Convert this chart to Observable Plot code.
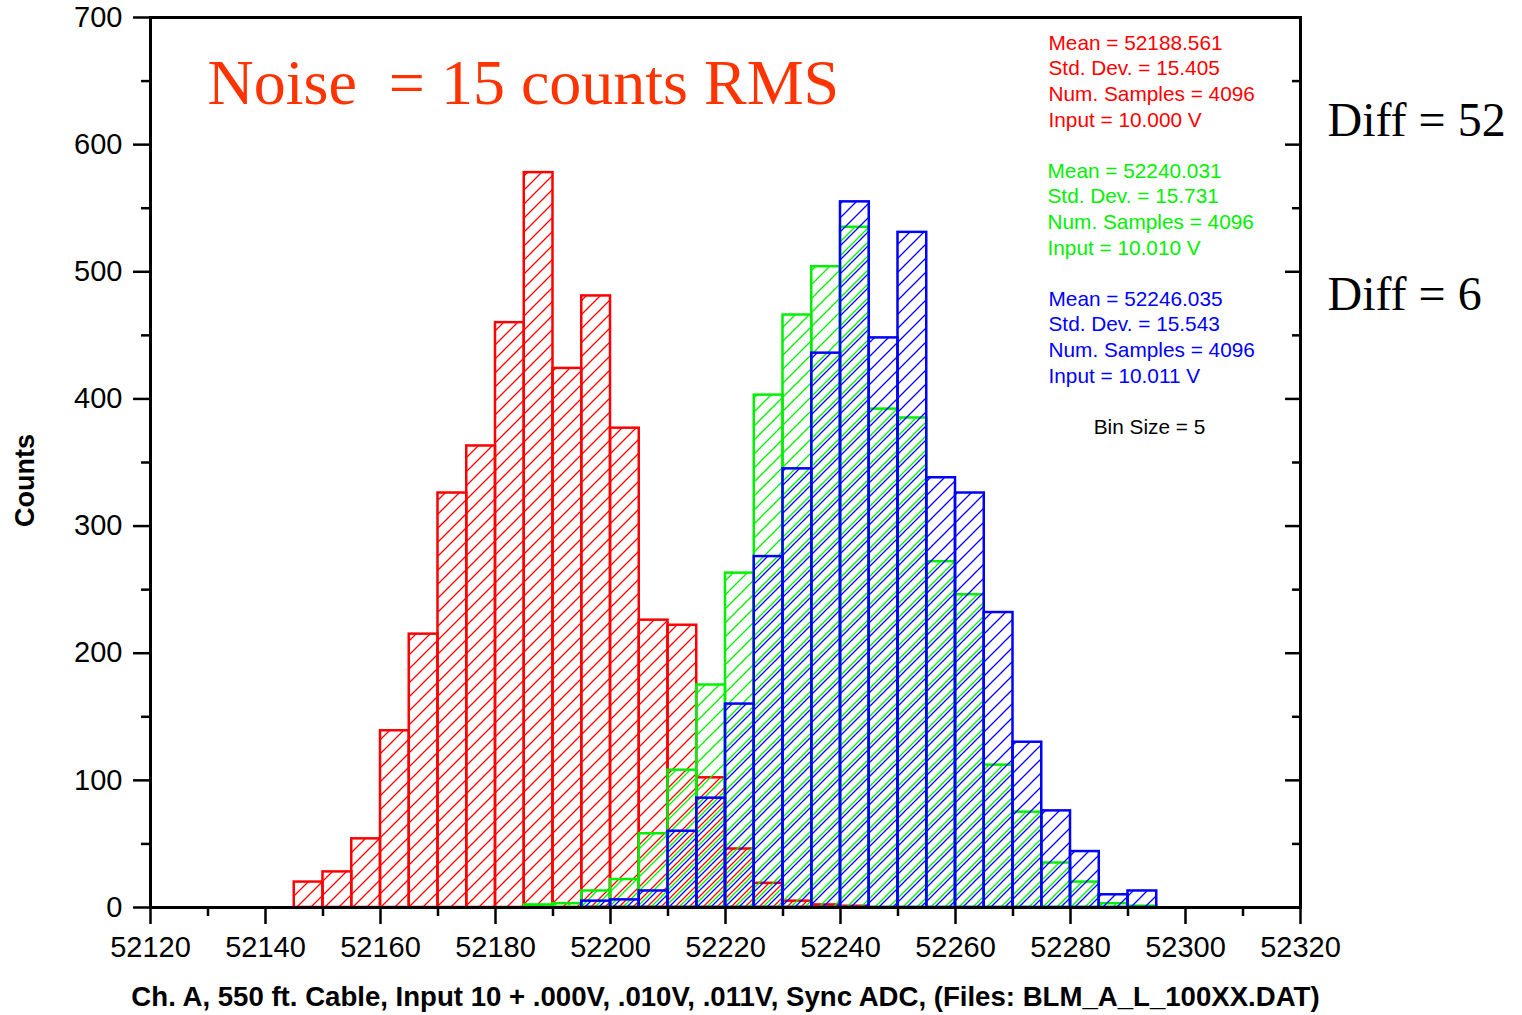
<!DOCTYPE html>
<html>
<head>
<meta charset="utf-8">
<script src="https://cdn.jsdelivr.net/npm/d3@7"></script>
<script src="https://cdn.jsdelivr.net/npm/@observablehq/plot@0.6"></script>
<style>
  html, body { margin: 0; padding: 0; background: #fff; }
  #chart { width: 1522px; height: 1015px; }
</style>
</head>
<body>
<div id="chart"></div>
<script>
// ---- data ----
const binSize = 5;

const redStart = 52135;
const redCounts = [0, 0, 20, 28, 54, 139, 215, 326, 363, 460, 578, 424, 481, 377, 226, 222, 102, 46, 19, 5, 2, 1];

const greenStart = 52185;
const greenCounts = [2, 3, 13, 22, 58, 108, 175, 263, 403, 466, 504, 535, 392, 385, 272, 246, 112, 75, 35, 20, 3, 1];

const blueStart = 52195;
const blueCounts = [5, 6, 13, 60, 86, 160, 276, 345, 436, 555, 448, 531, 338, 326, 232, 130, 76, 44, 10, 13, 0];

const seriesNames = ["red", "green", "blue"];
const seriesColors = ["#ff0000", "#00f000", "#0000ff"];

const statsRed = ["Mean = 52188.561", "Std. Dev. = 15.405", "Num. Samples = 4096", "Input = 10.000 V"];
const statsGreen = ["Mean = 52240.031", "Std. Dev. = 15.731", "Num. Samples = 4096", "Input = 10.010 V"];
const statsBlue = ["Mean = 52246.035", "Std. Dev. = 15.543", "Num. Samples = 4096", "Input = 10.011 V"];
const binLabel = "Bin Size = 5";
const noiseLabel = "Noise\u00a0 = 15 counts RMS";
const diffLabels = ["Diff = 52", "Diff = 6"];

const xTicks = [52120, 52140, 52160, 52180, 52200, 52220, 52240, 52260, 52280, 52300, 52320];
const yTicks = [0, 100, 200, 300, 400, 500, 600, 700];
const xMinor = d3.range(52130, 52320, 20);
const yMinor = d3.range(50, 700, 100);

const xTitle = "Ch. A, 550 ft. Cable, Input 10 + .000V, .010V, .011V, Sync ADC, (Files: BLM_A_L_100XX.DAT)";
const yTitle = "Counts";

// ---- build tables ----
function toBins(start, counts) {
  return counts.map((c, i) => ({x1: start + binSize * i, x2: start + binSize * (i + 1), y: c}));
}
const redBins = toBins(redStart, redCounts);
const greenBins = toBins(greenStart, greenCounts);
const blueBins = toBins(blueStart, blueCounts);

const hatch = 14;
function patterns() {
  const defs = d3.create("svg:defs");
  seriesNames.forEach((name, i) => {
    const p = defs.append("pattern")
      .attr("id", "hatch-" + name)
      .attr("patternUnits", "userSpaceOnUse")
      .attr("width", hatch).attr("height", hatch)
      .attr("x", i * 4);
    p.append("path")
      .attr("d", `M-1,1 l2,-2 M0,${hatch} l${hatch},-${hatch} M${hatch - 1},${hatch + 1} l2,-2`)
      .attr("stroke", seriesColors[i])
      .attr("stroke-width", 1.3)
      .attr("fill", "none");
  });
  return defs.node();
}

const sans = "'Liberation Sans', Arial, Helvetica, sans-serif";
const serif = "'Liberation Serif', 'Times New Roman', Times, serif";
const statSize = 20.8;

const chart = Plot.plot({
  width: 1522,
  height: 1015,
  marginLeft: 150,
  marginRight: 222,
  marginTop: 17,
  marginBottom: 108,
  style: {fontFamily: sans, background: "#fff", color: "#000", overflow: "visible"},
  x: {domain: [52120, 52320]},
  y: {domain: [0, 700]},
  marks: [
    patterns,
    Plot.rectY(redBins, {x1: "x1", x2: "x2", y: "y", fill: "url(#hatch-red)", stroke: seriesColors[0], strokeWidth: 2.5}),
    Plot.rectY(greenBins, {x1: "x1", x2: "x2", y: "y", fill: "url(#hatch-green)", stroke: seriesColors[1], strokeWidth: 2.5}),
    Plot.rectY(blueBins, {x1: "x1", x2: "x2", y: "y", fill: "url(#hatch-blue)", stroke: seriesColors[2], strokeWidth: 2.5}),
    // axes
    Plot.axisX({ticks: xTicks, tickSize: 17, tickPadding: 12, tickFormat: d => String(d), fontSize: 29, strokeWidth: 2.5, label: null, color: "#000"}),
    Plot.axisX({ticks: xMinor, tickSize: 9, text: null, strokeWidth: 2.5, label: null}),
    Plot.axisY({ticks: yTicks, tickSize: 17, tickPadding: 11, tickFormat: d => String(d), fontSize: 29, strokeWidth: 2.5, label: null}),
    Plot.axisY({ticks: yMinor, tickSize: 9, text: null, strokeWidth: 2.5, label: null}),
    Plot.tickY(yTicks, {y: d => d, insetLeft: 1135, stroke: "#000", strokeWidth: 2.5}),
    Plot.tickY(yMinor, {y: d => d, insetLeft: 1142, stroke: "#000", strokeWidth: 2.5}),
    Plot.frame({stroke: "#000", strokeWidth: 3}),
    // titles
    Plot.text([xTitle], {frameAnchor: "bottom", dy: 90, lineAnchor: "middle", fontSize: 27.6, fontWeight: "bold", fill: "#000"}),
    Plot.text([yTitle], {frameAnchor: "left", dx: -125, dy: 18, rotate: -90, lineAnchor: "middle", textAnchor: "middle", fontSize: 27, fontWeight: "bold", fill: "#000"}),
    // annotations
    Plot.text([noiseLabel], {frameAnchor: "top-left", dx: 57, dy: 41, textAnchor: "start", lineAnchor: "top", fontSize: 64, fontFamily: serif, fill: "#ff3300"}),
    Plot.text([diffLabels[0]], {frameAnchor: "top-right", dx: 27, dy: 84, textAnchor: "start", lineAnchor: "top", fontSize: 48, fontFamily: serif, fill: "#000"}),
    Plot.text([diffLabels[1]], {frameAnchor: "top-right", dx: 27, dy: 258, textAnchor: "start", lineAnchor: "top", fontSize: 48, fontFamily: serif, fill: "#000"}),
    Plot.text([statsRed.join("\n")], {frameAnchor: "top-right", dx: -252, dy: 14, textAnchor: "start", lineAnchor: "top", lineHeight: 1.234, fontSize: statSize, fill: seriesColors[0]}),
    Plot.text([statsGreen.join("\n")], {frameAnchor: "top-right", dx: -253, dy: 142, textAnchor: "start", lineAnchor: "top", lineHeight: 1.234, fontSize: statSize, fill: seriesColors[1]}),
    Plot.text([statsBlue.join("\n")], {frameAnchor: "top-right", dx: -252, dy: 270, textAnchor: "start", lineAnchor: "top", lineHeight: 1.234, fontSize: statSize, fill: seriesColors[2]}),
    Plot.text([binLabel], {frameAnchor: "top-right", dx: -151, dy: 402, textAnchor: "middle", lineAnchor: "top", fontSize: statSize, fill: "#000"})
  ]
});
document.getElementById("chart").appendChild(chart);
</script>
</body>
</html>
